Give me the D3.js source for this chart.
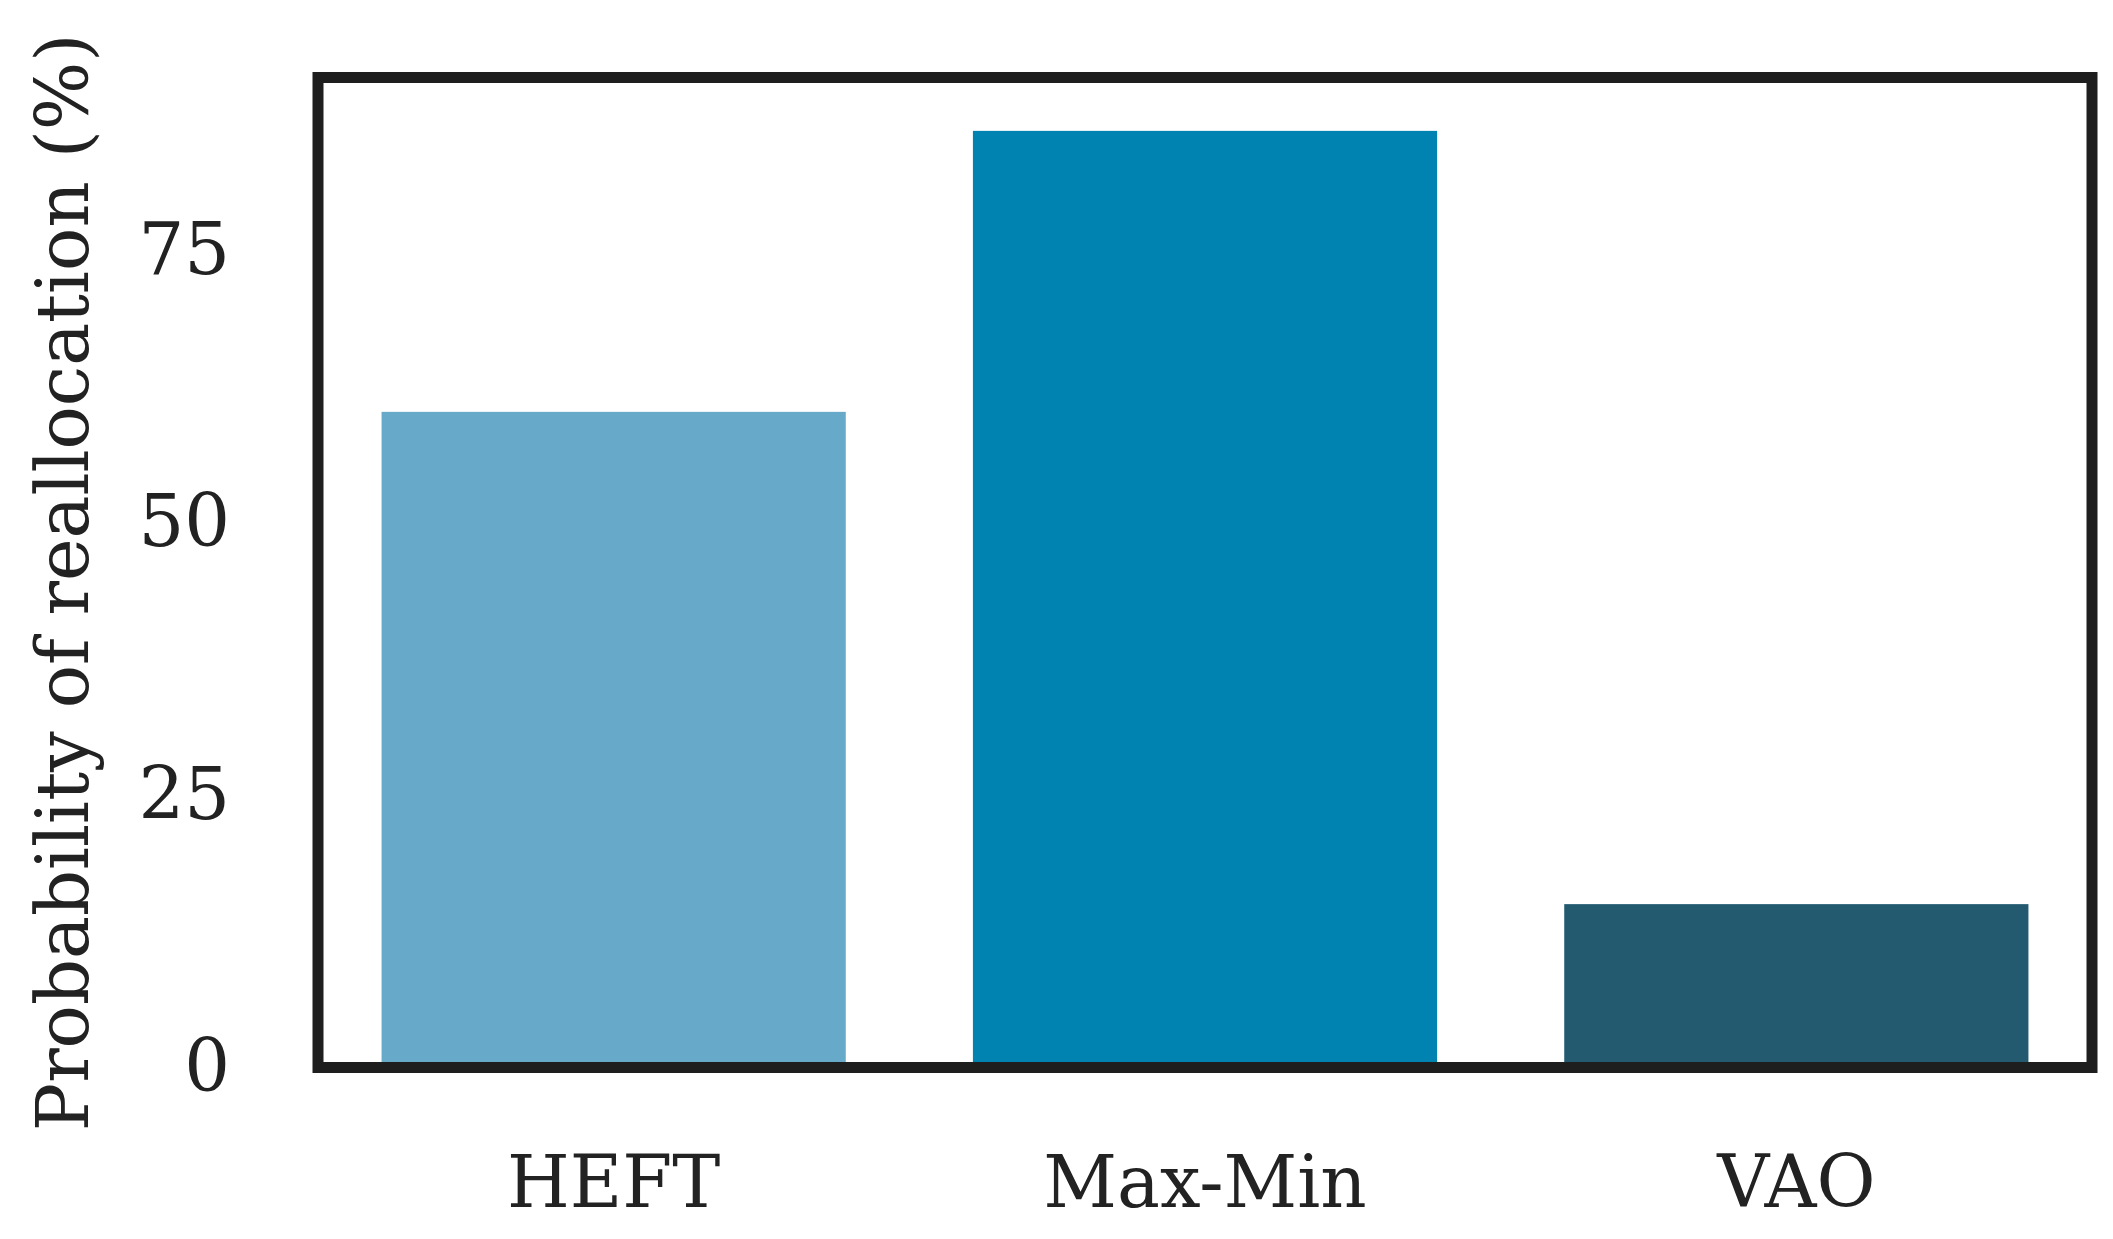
<!DOCTYPE html>
<html>
<head>
<meta charset="utf-8">
<script src="https://cdn.jsdelivr.net/npm/d3@7"></script>
<style>
  html, body { margin: 0; padding: 0; background: #fff; }
  svg { display: block; }
</style>
</head>
<body>
<svg id="chart" width="2113" height="1239"></svg>
<script>
const categories = ["HEFT", "Max-Min", "VAO"];
const values = [60.2, 86.0, 15.0];
const barColors = ["#66a9c9", "#0083b1", "#235a70"];
const yTicks = [0, 25, 50, 75];
const yLimits = [0, 90.9];
const yLabel = "Probability of reallocation (%)";

const svg = d3.select("#chart");
const frame = { left: 318, right: 2092, top: 77.5, bottom: 1067.5 };
const font = "'DejaVu Serif', serif";
const fontSize = 72;

const x = d3.scaleBand()
  .domain(categories)
  .range([frame.left, frame.right])
  .paddingInner(0.215)
  .paddingOuter(0.1075);

const y = d3.scaleLinear()
  .domain(yLimits)
  .range([frame.bottom, frame.top]);

// bars
svg.append("g")
  .selectAll("rect")
  .data(categories)
  .join("rect")
  .attr("x", d => x(d))
  .attr("width", x.bandwidth())
  .attr("y", (d, i) => y(values[i]))
  .attr("height", (d, i) => y(0) - y(values[i]))
  .attr("fill", (d, i) => barColors[i]);

// y axis (labels only)
const yAxis = d3.axisLeft(y).tickValues(yTicks).tickSize(0).tickPadding(88);
const gy = svg.append("g")
  .attr("transform", `translate(${frame.left},0)`)
  .call(yAxis);
gy.select(".domain").remove();
gy.selectAll("text")
  .attr("font-family", font)
  .attr("font-size", fontSize)
  .attr("fill", "#222");

// x axis (labels only)
const xAxis = d3.axisBottom(x).tickSize(0).tickPadding(88);
const gx = svg.append("g")
  .attr("transform", `translate(0,${frame.bottom})`)
  .call(xAxis);
gx.select(".domain").remove();
gx.selectAll("text")
  .attr("font-family", font)
  .attr("font-size", fontSize)
  .attr("fill", "#222");

// frame
svg.append("rect")
  .attr("x", frame.left)
  .attr("y", frame.top)
  .attr("width", frame.right - frame.left)
  .attr("height", frame.bottom - frame.top)
  .attr("fill", "none")
  .attr("stroke", "#1e1e1e")
  .attr("stroke-width", 11);

// y label
svg.append("text")
  .attr("transform", `translate(88,${(frame.top + frame.bottom) / 2 + 10}) rotate(-90)`)
  .attr("text-anchor", "middle")
  .attr("font-family", font)
  .attr("font-size", fontSize)
  .attr("fill", "#222")
  .text(yLabel);
</script>
</body>
</html>
